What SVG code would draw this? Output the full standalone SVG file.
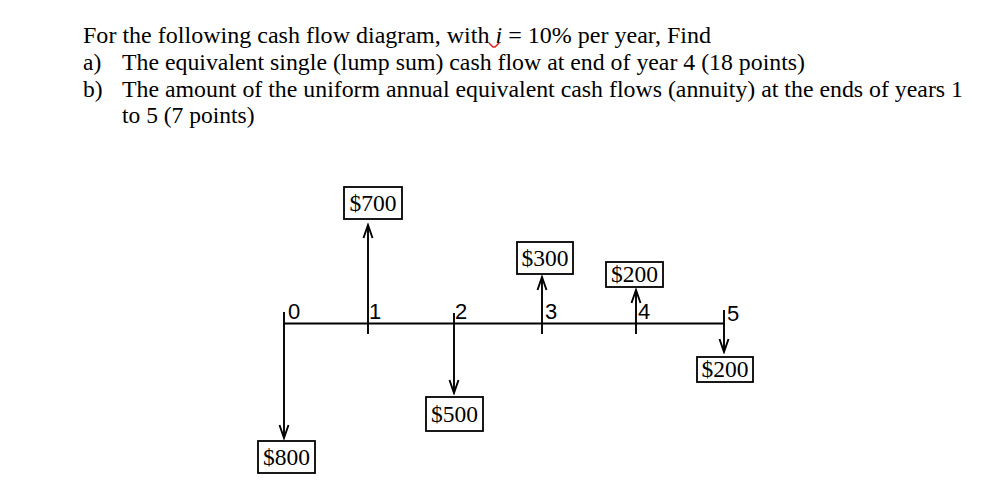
<svg xmlns="http://www.w3.org/2000/svg" width="1002" height="500" viewBox="0 0 1002 500">
<style>
.t{font-family:"Liberation Serif","Times New Roman",serif;font-size:23.5px;fill:#000}
.v{font-family:"Liberation Serif","Times New Roman",serif;font-size:23.5px;fill:#000}
.n{font-family:"Liberation Sans",Arial,sans-serif;font-size:22px;fill:#000}
.box{fill:#fff;stroke:#000;stroke-width:1.8}
.ln{stroke:#000;stroke-width:1.9;fill:none}
</style>
<defs>
<marker id="ah" markerWidth="16" markerHeight="12" refX="0" refY="0" viewBox="-14 -6 16 12" orient="auto" markerUnits="userSpaceOnUse">
<path d="M-13,-4.5 L0,0 L-13,4.5" fill="none" stroke="#000" stroke-width="1.9"/>
</marker>
</defs>
<rect width="1002" height="500" fill="#fff"/>
<g id="question">
<text class="t" x="83" y="43" textLength="628" lengthAdjust="spacingAndGlyphs">For the following cash flow diagram, with <tspan font-style="italic">i</tspan> = 10% per year, Find</text>
<path d="M489,43 L493,47 L495,47 L499,43" fill="none" stroke="#e02020" stroke-width="1.5"/>
<text class="t" x="83" y="70">a)</text>
<text class="t" x="122" y="70" textLength="683" lengthAdjust="spacingAndGlyphs">The equivalent single (lump sum) cash flow at end of year 4 (18 points)</text>
<text class="t" x="83" y="97">b)</text>
<text class="t" x="122" y="97" textLength="841" lengthAdjust="spacingAndGlyphs">The amount of the uniform annual equivalent cash flows (annuity) at the ends of years 1</text>
<text class="t" x="122" y="123">to 5 (7 points)</text>
</g>
<g id="connectors">
<line class="ln" x1="284" y1="323.5" x2="724" y2="323.5"/>
<line class="ln" x1="284" y1="312" x2="284" y2="438" marker-end="url(#ah)"/>
<line class="ln" x1="368" y1="334" x2="368" y2="225" marker-end="url(#ah)"/>
<line class="ln" x1="454" y1="313" x2="454" y2="393" marker-end="url(#ah)"/>
<line class="ln" x1="542" y1="334" x2="542" y2="277" marker-end="url(#ah)"/>
<line class="ln" x1="636" y1="334" x2="636" y2="290" marker-end="url(#ah)"/>
<line class="ln" x1="724" y1="310" x2="724" y2="352" marker-end="url(#ah)"/>
</g>
<g id="labels">
<text class="n" x="288" y="319">0</text>
<text class="n" x="369" y="319">1</text>
<text class="n" x="455" y="319">2</text>
<text class="n" x="545" y="319">3</text>
<text class="n" x="638" y="319">4</text>
<text class="n" x="727" y="321">5</text>
</g>
<g id="cf-700"><rect class="box" x="344" y="187" width="58" height="32"/><text class="v" x="373" y="211" text-anchor="middle">$700</text></g>
<g id="cf-300"><rect class="box" x="517" y="242" width="56" height="32"/><text class="v" x="545" y="266" text-anchor="middle">$300</text></g>
<g id="cf-200-up"><rect class="box" x="606" y="262" width="57" height="25"/><text class="v" x="634.5" y="282" text-anchor="middle">$200</text></g>
<g id="cf-200-down"><rect class="box" x="697" y="357" width="56" height="25"/><text class="v" x="725" y="377" text-anchor="middle">$200</text></g>
<g id="cf-500"><rect class="box" x="426" y="397" width="57" height="34"/><text class="v" x="454.5" y="422" text-anchor="middle">$500</text></g>
<g id="cf-800"><rect class="box" x="258" y="441" width="57" height="32"/><text class="v" x="286.5" y="465" text-anchor="middle">$800</text></g>
</svg>
